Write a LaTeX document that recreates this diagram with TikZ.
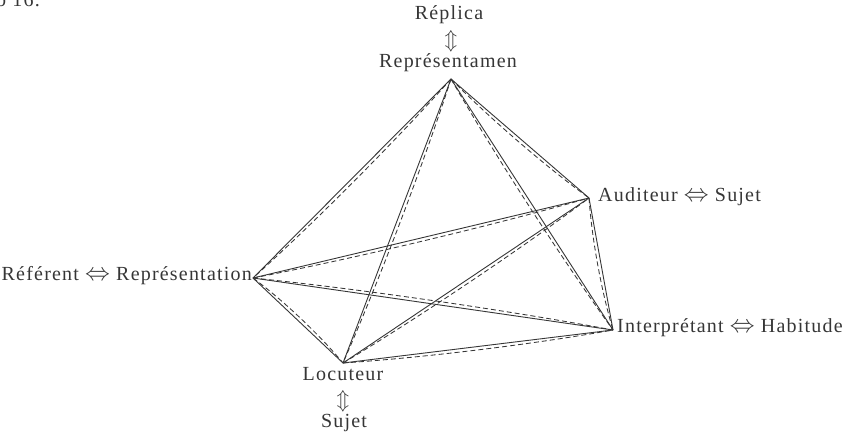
\documentclass[tikz,border=0pt]{standalone}
\usepackage{fontspec}
\setmainfont{Liberation Serif}[LetterSpace=6]
\usetikzlibrary{calc}
\definecolor{ink}{HTML}{363636}
\newcommand\pairedge[4]{%
  \draw[solidline] (#1) -- (#2);
  \draw[dashline] (#1) .. controls ($(#1)!0.3!(#2)!4.5pt!#3:(#2)$) and ($(#2)!0.3!(#1)!4.5pt!#4:(#1)$) .. (#2);}
\newcommand\lrar{{\fontsize{23}{23}\selectfont$\Leftrightarrow$}}
\newcommand\udar{{\fontsize{22}{22}\selectfont$\Updownarrow$}}
\begin{document}
\begin{tikzpicture}[x=1pt,y=-1pt,
  font=\fontsize{20}{22}\selectfont,
  every node/.style={inner sep=0pt, text=ink},
  solidline/.style={draw=ink, line width=0.9pt},
  dashline/.style={draw=ink, line width=0.85pt, dash pattern=on 5pt off 3pt}]
\useasboundingbox (0,0) rectangle (853,435);
% vertices
\coordinate (R) at (451,79);
\coordinate (A) at (589,198);
\coordinate (Ref) at (253,278);
\coordinate (I) at (613,330);
\coordinate (L) at (343,363);
% labels
\node[anchor=base west] (fig) at (-4,7) {b~16.};
\node[anchor=mid] (replica) at (449,17) {Réplica};
\node (arrR) at (451,41) {\udar};
\node[anchor=mid] (repr) at (448,65) {Représentamen};
\node[anchor=mid west] (aud) at (598,199) {Auditeur \lrar{} Sujet};
\node[anchor=mid west] (interp) at (617,330) {Interprétant \lrar{} Habitude};
\node[anchor=mid east] (refer) at (252,278) {Référent \lrar{} Représentation};
\node[anchor=mid] (loc) at (343,378) {Locuteur};
\node (arrL) at (343,401) {\udar};
\node[anchor=mid] (sujet) at (344,425) {Sujet};
% edges
\pairedge{R}{Ref}{90}{-90}
\pairedge{R}{A}{-90}{90}
\pairedge{R}{L}{90}{-90}
\pairedge{R}{I}{-90}{90}
\pairedge{Ref}{A}{-90}{90}
\pairedge{Ref}{I}{90}{-90}
\pairedge{Ref}{L}{90}{-90}
\pairedge{L}{A}{-90}{90}
\pairedge{L}{I}{-90}{90}
\pairedge{A}{I}{-90}{90}
\end{tikzpicture}
\end{document}
